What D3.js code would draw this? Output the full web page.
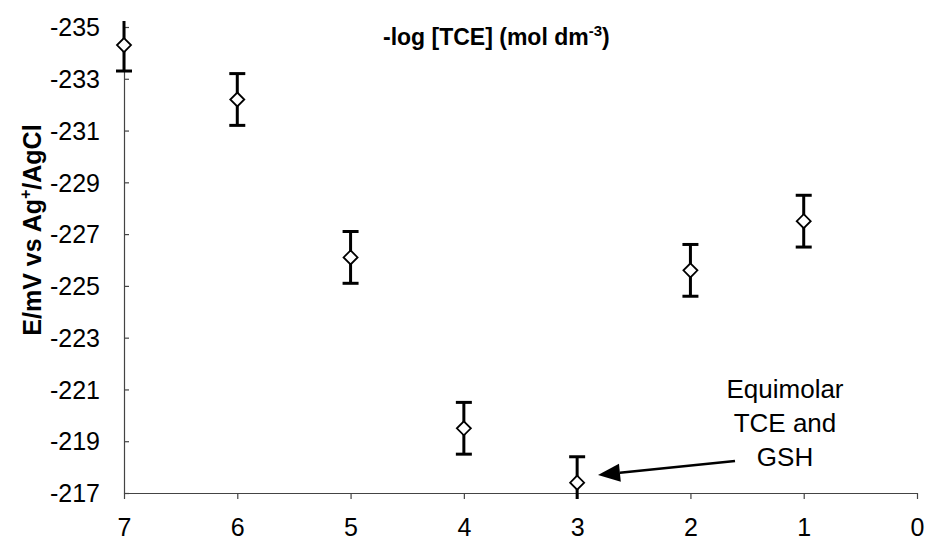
<!DOCTYPE html>
<html><head><meta charset="utf-8">
<script src="https://cdn.jsdelivr.net/npm/d3@7"></script>
<style>body{margin:0;background:#fff;} text{font-family:"Liberation Sans",Arial,sans-serif;}</style>
</head><body>
<svg id="c" width="927" height="542"></svg>
<script>
const xValues = [7, 6, 5, 4, 3, 2, 1];
const yValues = [-234.3, -232.2, -226.1, -219.5, -217.4, -225.6, -227.5];
const errValues = [1, 1, 1, 1, 1, 1, 1];
const xTicks = [7, 6, 5, 4, 3, 2, 1, 0];
const yTicks = [-235, -233, -231, -229, -227, -225, -223, -221, -219, -217];

const svg = d3.select("#c");
const x = d3.scaleLinear().domain([7, 0]).range([124, 917]);
const y = d3.scaleLinear().domain([-235, -217]).range([27, 493]);
const fmt = d => String(d).replace("\u2212", "-");

// axes
const xAxis = svg.append("g").attr("transform", `translate(0,${y(-217)})`)
  .call(d3.axisBottom(x).tickValues(xTicks).tickSize(6).tickSizeOuter(0).tickFormat(fmt));
const yAxis = svg.append("g").attr("transform", `translate(${x(7)},0)`)
  .call(d3.axisLeft(y).tickValues(yTicks).tickSize(-5).tickSizeOuter(0).tickPadding(24).tickFormat(fmt));
[xAxis, yAxis].forEach(g => {
  g.select(".domain").attr("stroke", "#444").attr("stroke-width", 1.2);
  g.selectAll(".tick line").attr("stroke", "#444").attr("stroke-width", 1.2);
  g.selectAll(".tick text").attr("fill", "#000").style("font-size", "25px")
    .style("font-family", "'Liberation Sans',Arial,sans-serif");
});
yAxis.selectAll(".tick text").attr("dy", "0.35em");
xAxis.selectAll(".tick text").attr("y", 43).attr("dy", 0);

// clip
svg.append("clipPath").attr("id", "pa").append("rect")
  .attr("x", 100).attr("y", y(-235) - 6).attr("width", 830).attr("height", y(-217) - y(-235) + 12);

const data = xValues.map((d, i) => ({x: d, y: yValues[i], e: errValues[i]}));
const eb = svg.append("g").attr("clip-path", "url(#pa)");
data.forEach(d => {
  const cx = x(d.x), y1 = y(d.y - d.e), y2 = y(d.y + d.e);
  eb.append("line").attr("x1", cx).attr("x2", cx).attr("y1", y1).attr("y2", y2)
    .attr("stroke", "#000").attr("stroke-width", 3);
  [y1, y2].forEach(yy => eb.append("line").attr("x1", cx - 8).attr("x2", cx + 8)
    .attr("y1", yy).attr("y2", yy).attr("stroke", "#000").attr("stroke-width", 3));
});
svg.append("g").selectAll("path").data(data).join("path")
  .attr("transform", d => `translate(${x(d.x)},${y(d.y)})`)
  .attr("d", "M0,-7L7,0L0,7L-7,0Z")
  .attr("fill", "#fff").attr("stroke", "#000").attr("stroke-width", 1.8);

// title
const t = svg.append("text").attr("x", 383).attr("y", 45)
  .style("font-size", "23px").style("font-weight", "bold");
t.append("tspan").text("-log [TCE] (mol dm");
t.append("tspan").attr("dy", -9).style("font-size", "15px").text("-3");
t.append("tspan").attr("dy", 9).text(")");

// y title
const yt = svg.append("text").attr("transform", "translate(41,230) rotate(-90)")
  .attr("text-anchor", "middle").style("font-size", "25px").style("font-weight", "bold");
yt.append("tspan").text("E/mV vs Ag");
yt.append("tspan").attr("dy", -10).style("font-size", "16px").text("+");
yt.append("tspan").attr("dy", 10).text("/AgCl");

// annotation
const ann = ["Equimolar", "TCE and", "GSH"];
svg.append("g").selectAll("text").data(ann).join("text")
  .attr("x", 785).attr("y", (d, i) => 398 + i * 34).attr("text-anchor", "middle")
  .style("font-size", "26px").text(d => d);
const ax1 = 735, ay1 = 461, ax2 = 598, ay2 = 475;
const ang = Math.atan2(ay2 - ay1, ax2 - ax1), L = 22, W = 9;
const bx = ax2 - L * Math.cos(ang), by = ay2 - L * Math.sin(ang);
svg.append("line").attr("x1", ax1).attr("y1", ay1).attr("x2", bx).attr("y2", by)
  .attr("stroke", "#000").attr("stroke-width", 2.5);
svg.append("path").attr("d", `M${ax2},${ay2}L${bx - W * Math.sin(ang)},${by + W * Math.cos(ang)}L${bx + W * Math.sin(ang)},${by - W * Math.cos(ang)}Z`)
  .attr("fill", "#000");
</script>
</body></html>
